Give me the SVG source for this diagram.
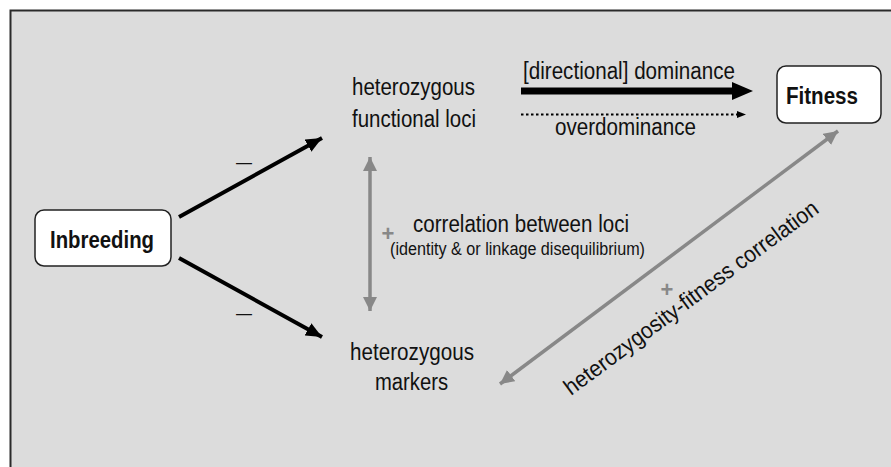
<svg xmlns="http://www.w3.org/2000/svg" width="891" height="467" viewBox="0 0 891 467">
<defs>
<style>
.t{font-family:"Liberation Sans",Arial,sans-serif;font-size:23px;fill:#111;}
.b{font-weight:bold;}
.s{font-size:18px;}
.g{fill:#888;font-family:"Liberation Sans",Arial,sans-serif;font-size:22px;font-weight:bold;}
.box{fill:#fff;stroke:#222;stroke-width:1.5;}
.blk{stroke:#000;stroke-width:4;fill:none;}
.gry{stroke:#888;stroke-width:3.5;fill:none;}
</style>
<marker id="ah" markerUnits="userSpaceOnUse" markerWidth="18" markerHeight="14" refX="16" refY="7" orient="auto"><path d="M0,0 L16,7 L0,14 z" fill="#000"/></marker>
<marker id="gh" markerUnits="userSpaceOnUse" markerWidth="16" markerHeight="14" refX="14" refY="7" orient="auto-start-reverse"><path d="M0,0 L14,7 L0,14 z" fill="#888"/></marker>
</defs>
<rect x="10.5" y="10.5" width="900" height="480" fill="#dcdcdc" stroke="#2a2a2a" stroke-width="2"/>
<g id="connectors">
<line class="blk" x1="179" y1="217" x2="322" y2="138" marker-end="url(#ah)"/>
<line class="blk" x1="179" y1="258" x2="322" y2="337" marker-end="url(#ah)"/>
<line x1="521" y1="91" x2="734" y2="91" stroke="#000" stroke-width="7"/>
<polygon points="732,82 753,91 732,100" fill="#000"/>
<line x1="521" y1="114.5" x2="737" y2="114.5" stroke="#000" stroke-width="2" stroke-dasharray="2.5 2.5"/>
<polygon points="737,111 746,114.5 737,118" fill="#000"/>
<line class="gry" x1="370" y1="157" x2="370" y2="311" marker-start="url(#gh)" marker-end="url(#gh)"/>
<line class="gry" x1="500" y1="384" x2="838" y2="131" marker-start="url(#gh)" marker-end="url(#gh)"/>
</g>
<g id="inbreeding">
<rect class="box" x="35" y="210" width="136" height="56" rx="9"/>
<text class="t b" x="50" y="248" textLength="104" lengthAdjust="spacingAndGlyphs" style="font-size:24px">Inbreeding</text>
</g>
<g id="fitness">
<rect class="box" x="777" y="66" width="104" height="57" rx="9"/>
<text class="t b" x="786" y="104" textLength="72" lengthAdjust="spacingAndGlyphs">Fitness</text>
</g>
<g id="functional">
<text class="t" x="352" y="95" textLength="123" lengthAdjust="spacingAndGlyphs">heterozygous</text>
<text class="t" x="352" y="127" textLength="124" lengthAdjust="spacingAndGlyphs">functional loci</text>
</g>
<g id="markers">
<text class="t" x="350" y="360" textLength="124" lengthAdjust="spacingAndGlyphs">heterozygous</text>
<text class="t" x="375" y="390" textLength="73" lengthAdjust="spacingAndGlyphs">markers</text>
</g>
<g id="labels">
<text class="t" x="244" y="168" text-anchor="middle" style="font-size:16px">—</text>
<text class="t" x="244" y="319" text-anchor="middle" style="font-size:16px">—</text>
<text class="t" x="523" y="79" textLength="212" lengthAdjust="spacingAndGlyphs">[directional] dominance</text>
<text class="t" x="555" y="135" textLength="141" lengthAdjust="spacingAndGlyphs">overdominance</text>
<text class="g" x="388" y="241" text-anchor="middle">+</text>
<text class="t" x="413" y="232" textLength="216" lengthAdjust="spacingAndGlyphs">correlation between loci</text>
<text class="t s" x="390" y="255" textLength="255" lengthAdjust="spacingAndGlyphs">(identity &amp; or linkage disequilibrium)</text>
<text class="g" x="667" y="297" text-anchor="middle">+</text>
<text class="t" transform="translate(571,396) rotate(-36.5)" textLength="310" lengthAdjust="spacingAndGlyphs">heterozygosity-fitness correlation</text>
</g>
</svg>
